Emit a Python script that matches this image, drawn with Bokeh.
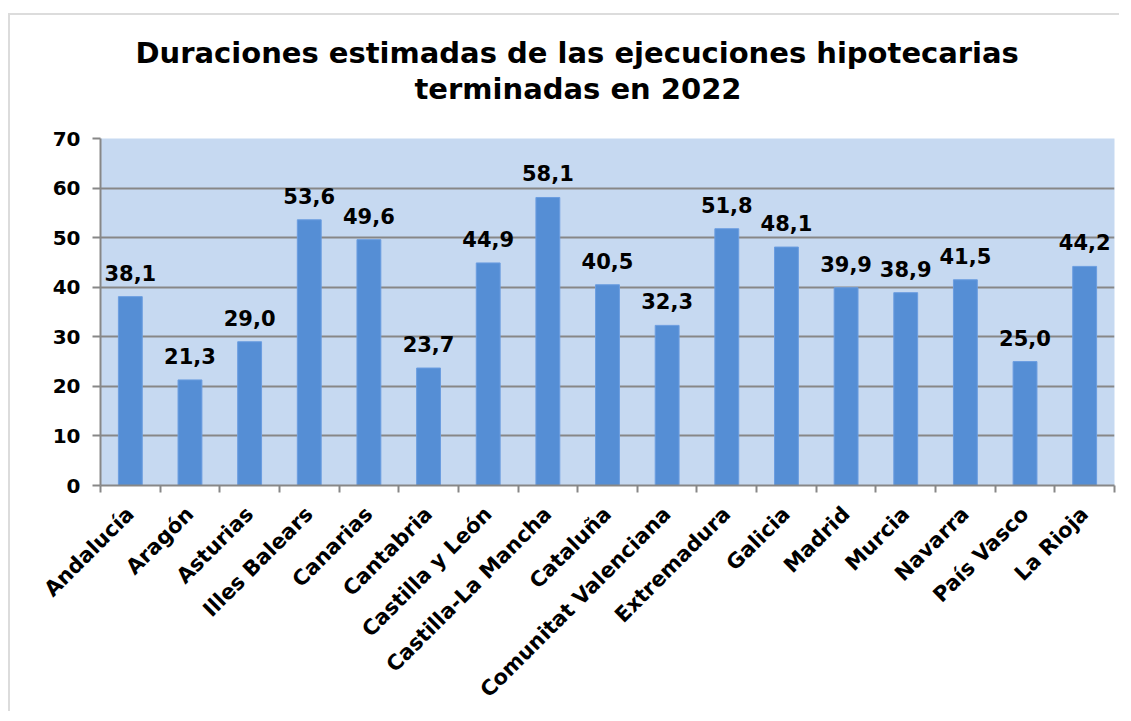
from bokeh.plotting import figure
from bokeh.models import (ColumnDataSource, LabelSet, LinearAxis, Range1d, FixedTicker, Title)
from bokeh.core.properties import value
from bokeh.embed import file_html
from bokeh.resources import INLINE
from math import pi

regions = ["Andalucía", "Aragón", "Asturias", "Illes Balears", "Canarias", "Cantabria",
           "Castilla y León", "Castilla-La Mancha", "Cataluña", "Comunitat Valenciana",
           "Extremadura", "Galicia", "Madrid", "Murcia", "Navarra", "País Vasco", "La Rioja"]
durations = [38.1, 21.3, 29.0, 53.6, 49.6, 23.7, 44.9, 58.1, 40.5, 32.3,
             51.8, 48.1, 39.9, 38.9, 41.5, 25.0, 44.2]
y_ticks = [0, 10, 20, 30, 40, 50, 60, 70]
title_line1 = "Duraciones estimadas de las ejecuciones hipotecarias"
title_line2 = "terminadas en 2022"

n = len(regions)
xpos = [i + 0.5 for i in range(n)]
labels = [f"{v:.1f}".replace(".", ",") for v in durations]
src = ColumnDataSource(dict(x=xpos, region=regions, value=durations, label=labels))

FONT = "DejaVu Sans"
GRAY = "#878787"

p = figure(x_range=Range1d(0, n), y_range=Range1d(0, 70),
           width=1111, height=698, output_backend="svg", toolbar_location=None,
           x_axis_location=None, min_border_left=90, min_border_top=123,
           min_border_right=7, min_border_bottom=227)
p.styles = {"border-top": "2px solid #dcdcdc", "border-left": "2px solid #dcdcdc",
            "margin-left": "8px", "margin-top": "13px"}

# spacer between title and plot frame
spacer = Title(text=" ", text_font_size="1px", standoff=30)
t2 = Title(text=title_line2, align="left", offset=314, text_font=FONT, text_font_size="29px",
           text_font_style="bold", text_color="black", standoff=0)
t1 = Title(text=title_line1, align="left", offset=35, text_font=FONT, text_font_size="29px",
           text_font_style="bold", text_color="black", standoff=0)
p.add_layout(spacer, "above")
p.add_layout(t2, "above")
p.add_layout(t1, "above")

p.background_fill_color = "#C6D9F1"
p.border_fill_color = "white"
p.outline_line_color = None

p.vbar(x="x", top="value", width=0.4, source=src,
       fill_color="#558ED5", line_color="#6b9de0", line_width=1)

p.add_layout(LabelSet(x="x", y="value", text="label", source=src,
                      y_offset=16, text_align="center", text_baseline="alphabetic",
                      text_font_size="21px", text_font_style="bold", text_font=value(FONT),
                      text_color="black"))

# y axis
ya = p.yaxis[0]
ya.ticker = FixedTicker(ticks=y_ticks)
ya.major_label_text_font = FONT
ya.major_label_text_font_size = "20px"
ya.major_label_text_font_style = "bold"
ya.major_label_text_color = "black"
ya.major_tick_out = 8
ya.major_tick_in = 0
ya.minor_tick_line_color = None
ya.axis_line_color = GRAY
ya.axis_line_width = 2
ya.major_tick_line_color = GRAY
ya.major_tick_line_width = 2
ya.major_label_standoff = 12

p.ygrid.ticker = FixedTicker(ticks=y_ticks)
p.ygrid.grid_line_color = GRAY
p.ygrid.grid_line_width = 2
p.xgrid.grid_line_color = None

# boundary tick axis
ta = LinearAxis(ticker=FixedTicker(ticks=list(range(n + 1))))
ta.major_tick_out = 7
ta.major_tick_in = 0
ta.minor_tick_line_color = None
ta.axis_line_color = GRAY
ta.axis_line_width = 2
ta.major_tick_line_color = GRAY
ta.major_tick_line_width = 2
ta.major_label_text_font_size = "1px"
ta.major_label_text_color = None
ta.major_label_standoff = 0
p.add_layout(ta, "below")

# category label axis
ca = LinearAxis(ticker=FixedTicker(ticks=xpos),
                major_label_overrides={x: r for x, r in zip(xpos, regions)})
ca.axis_line_color = None
ca.major_tick_line_color = None
ca.minor_tick_line_color = None
ca.major_label_orientation = pi / 4
ca.major_label_text_font = FONT
ca.major_label_text_font_size = "21px"
ca.major_label_text_font_style = "bold"
ca.major_label_text_color = "black"
ca.major_label_standoff = 12
p.add_layout(ca, "below")

open("out.html", "w").write(file_html(p, INLINE))
